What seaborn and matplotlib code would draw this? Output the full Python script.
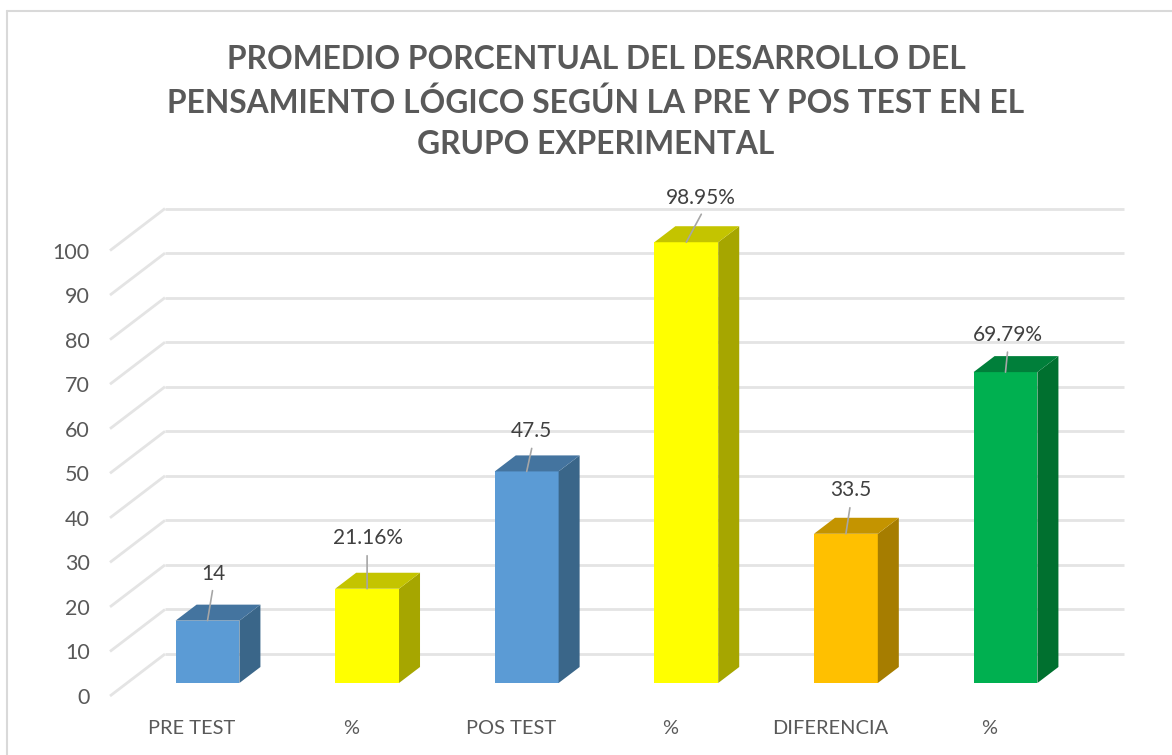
import seaborn as sns
import matplotlib.pyplot as plt
import pandas as pd
from matplotlib.lines import Line2D
from matplotlib.patches import Polygon

categories = ["PRE TEST", "%", "POS TEST", "%", "DIFERENCIA", "%"]
values = [14, 21.16, 47.5, 98.95, 33.5, 69.79]
value_labels = ["14", "21.16%", "47.5", "98.95%", "33.5", "69.79%"]
y_ticks = [0, 10, 20, 30, 40, 50, 60, 70, 80, 90, 100]

front_colors = ["#5B9BD5", "#FFFF00", "#5B9BD5", "#FFFF00", "#FFC000", "#00B050"]
top_colors = ["#44749F", "#C4C400", "#44749F", "#C4C400", "#C49400", "#007F3A"]
side_colors = ["#3A6689", "#A6A600", "#3A6689", "#A6A600", "#A67D00", "#00702F"]

# label and leader line offsets from the top of each bar, in pixels
label_offsets = [(6, 47), (1, 51), (5, 40), (15, 44), (5, 44), (2, 37)]
leader_offsets = [(5, 30), (0, 33), (5, 23), (15, 28), (4, 26), (2, 20)]

sns.set_style("white")
plt.rcParams["font.family"] = ["Lato", "DejaVu Sans"]

W, H = 1172, 755
fig = plt.figure(figsize=(W / 100, H / 100), dpi=100)
ax = fig.add_axes([110 / W, 59 / H, 1014 / W, 503 / H])

# scale: one category is 159.6 px, one y unit is 4.455 px
px_x = 1 / 159.6
px_y = 1 / 4.455
front_shift = 13 * px_y
back_shift = 29 * px_y
back_x = (165 - 207.5) * px_x
left_x = (110 - 207.5) * px_x
right_x = (1124 - 207.5) * px_x
depth_x = 21 * px_x
depth_y = 16 * px_y
half = 0.2

df = pd.DataFrame({"pos": range(len(values)), "value": values})
sns.barplot(data=df, x="pos", y="value", hue="pos", palette=front_colors,
            legend=False, width=0.4, saturation=1, linewidth=0, ax=ax, zorder=3)

ax.set_xlim(left_x, right_x)
ax.set_ylim(-front_shift, 110)
ax.set_xlabel("")
ax.set_ylabel("")
ax.set_xticks([])
ax.set_yticks([])
sns.despine(ax=ax, left=True, bottom=True)

# walls of the fake 3d chart
for t in y_ticks:
    ax.plot([left_x, back_x], [t - front_shift, t + back_shift], color="#E4E4E4",
            lw=2, clip_on=False, zorder=1, solid_capstyle="butt")
    ax.plot([back_x, right_x], [t + back_shift, t + back_shift], color="#E4E4E4",
            lw=2, clip_on=False, zorder=1, solid_capstyle="butt")

for i, v in enumerate(values):
    x1 = i + half
    x0 = i - half
    ax.add_patch(Polygon([(x1, 0), (x1 + depth_x, depth_y), (x1 + depth_x, v + depth_y), (x1, v)],
                         color=side_colors[i], lw=0, zorder=3))
    ax.add_patch(Polygon([(x0, v), (x0 + depth_x, v + depth_y), (x1 + depth_x, v + depth_y), (x1, v)],
                         color=top_colors[i], lw=0, zorder=3))
    ax.annotate("", xy=(i, v), xytext=leader_offsets[i], textcoords="offset pixels",
                arrowprops=dict(arrowstyle="-", color="#A6A6A6", lw=1.2, shrinkA=0, shrinkB=0),
                zorder=4)
    ax.annotate(value_labels[i], xy=(i, v), xytext=label_offsets[i], textcoords="offset pixels",
                ha="center", va="center", fontsize=15, color="#404040", zorder=5)

# tick labels sit on the front edge, not under the bars
y_axis = ax.secondary_yaxis("left", functions=(lambda v: v + front_shift, lambda v: v - front_shift))
y_axis.set_yticks(y_ticks)
y_axis.tick_params(length=0, pad=14.5, labelsize=15.5, labelcolor="#595959")
y_axis.spines["left"].set_visible(False)

shift = 16 * px_x
x_axis = ax.secondary_xaxis("bottom", functions=(lambda v: v + shift, lambda v: v - shift))
x_axis.set_xticks(range(len(categories)))
x_axis.set_xticklabels(categories)
x_axis.tick_params(length=0, pad=17, labelsize=14.4, labelcolor="#595959")
x_axis.spines["bottom"].set_visible(False)

fig.text(596 / W, 1 - 102 / H,
         "PROMEDIO PORCENTUAL DEL DESARROLLO DEL\n"
         "PENSAMIENTO LÓGICO SEGÚN LA PRE Y POS TEST EN EL\n"
         "GRUPO EXPERIMENTAL",
         ha="center", va="center", fontsize=22.9, fontweight="bold", color="#595959",
         linespacing=1.52)

# chart frame, cut off on the right and at the bottom
fig.add_artist(Line2D([7 / W, 7 / W], [0, 1 - 11 / H], color="#D9D9D9", lw=1.5))
fig.add_artist(Line2D([7 / W, 1], [1 - 11 / H, 1 - 11 / H], color="#D9D9D9", lw=1.5))

plt.savefig("out.png", dpi=100)
plt.close()
